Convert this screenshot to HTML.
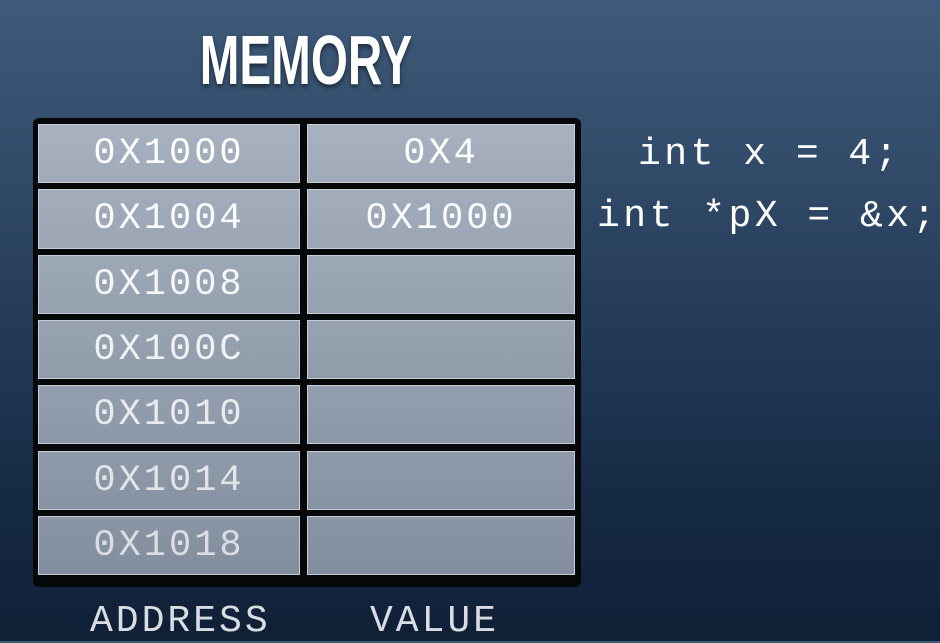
<!DOCTYPE html>
<html><head><meta charset="utf-8"><style>
html,body{margin:0;padding:0}
body{width:940px;height:641px;overflow:hidden;position:relative;background:linear-gradient(180deg,#3f5b7a 0%,#2c4563 35%,#172b46 75%,#0f1f36 100%);font-family:"Liberation Mono",monospace}
.abs{position:absolute}
#title{left:0;width:612px;top:20px;text-align:center;font-family:"Liberation Sans",sans-serif;font-weight:bold;font-size:70px;color:#fff;transform:scaleX(0.68);transform-origin:306px 0;text-shadow:0 3px 6px rgba(0,0,0,.5)}
#table{left:33px;top:118px;width:548px;height:469px;background:#050708;border-radius:6px}
.cell{position:absolute;box-sizing:border-box;border:1px solid #c5ccd6;color:#fff;font-size:37px;letter-spacing:3px;text-align:center;line-height:58px}
.code{color:#fff;font-size:38px;letter-spacing:3.5px;white-space:pre}
.lbl{color:#d9dde3;font-size:38px;letter-spacing:3px;top:600px}
</style></head><body>
<div id="title" class="abs">MEMORY</div>
<div id="table" class="abs"></div>
<div class="abs code" style="left:638px;top:133px">int x = 4;</div>
<div class="abs code" style="left:597px;top:195px">int *pX = &amp;x;</div>
<div class="abs lbl" style="left:90px">ADDRESS</div>
<div class="abs lbl" style="left:370px">VALUE</div>
<script>
const addresses=["0X1000","0X1004","0X1008","0X100C","0X1010","0X1014","0X1018"];
const values=["0X4","0X1000","","","","",""];
const t=document.getElementById('table');
const rowH=65.3, top0=6;
addresses.forEach((a,i)=>{
  const y=top0+i*rowH;
  const shade=i/6;
  const c1=`rgb(${Math.round(167-30*shade)},${Math.round(177-28*shade)},${Math.round(191-26*shade)})`;
  const c2=`rgb(${Math.round(160-30*shade)},${Math.round(170-28*shade)},${Math.round(184-26*shade)})`;
  const tc=`rgba(255,255,255,${1-0.3*shade})`;
  [[5,262,a,'address-cell'],[274,268,values[i],'value-cell']].forEach(([x,w,txt,nm])=>{
    const d=document.createElement('div');
    d.className='cell';
    
    
    d.style.left=x+'px';d.style.top=y+'px';d.style.width=w+'px';d.style.height=(rowH-6)+'px';
    d.style.background=`linear-gradient(180deg,${c1},${c2})`;
    d.style.color=tc;
    d.textContent=txt;
    t.appendChild(d);
  });
});
</script>
</body></html>
